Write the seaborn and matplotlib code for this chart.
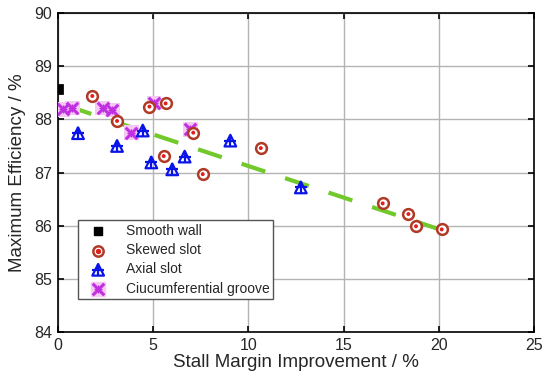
import matplotlib
matplotlib.use("Agg")
import matplotlib.pyplot as plt
from matplotlib.legend_handler import HandlerTuple
import seaborn as sns

# data
smooth_x = [0.0]
smooth_y = [88.58]

skewed_x = [1.8, 3.1, 4.8, 5.65, 7.1, 10.65, 5.55, 7.6, 17.05, 18.4, 18.8, 20.15]
skewed_y = [88.44, 87.97, 88.24, 88.30, 87.75, 87.46, 87.31, 86.97, 86.42, 86.22, 85.99, 85.93]

axial_x = [1.05, 3.1, 4.45, 4.9, 6.0, 6.65, 9.05, 12.75]
axial_y = [87.74, 87.50, 87.79, 87.19, 87.06, 87.30, 87.60, 86.72]

circ_x = [0.25, 0.75, 2.35, 2.85, 3.85, 5.05, 6.95]
circ_y = [88.19, 88.21, 88.21, 88.18, 87.75, 88.31, 87.81]

trend_x = [0.5, 20.3]
trend_y = [88.25, 85.90]

labels = ['Smooth wall', 'Skewed slot', 'Axial slot', 'Ciucumferential groove']

sns.set_style("ticks")
plt.rcParams['font.family'] = ['Liberation Sans', 'DejaVu Sans']

fig = plt.figure(figsize=(5.5, 3.83), dpi=100)
ax = fig.add_axes([0.1055, 0.133, 0.8655, 0.833])

# trend line
sns.lineplot(x=trend_x, y=trend_y, ax=ax, color='#72c92c', lw=3, zorder=2)
ax.lines[-1].set_dashes([6, 5])

# smooth wall
sns.scatterplot(x=smooth_x, y=smooth_y, ax=ax, marker='s', s=45,
                color='black', edgecolor='black', zorder=5)

# skewed slot: ring with a red dot
sns.scatterplot(x=skewed_x, y=skewed_y, ax=ax, marker='o', s=60,
                facecolor='white', edgecolor='#b03a26', linewidth=1.8, zorder=4)
sns.scatterplot(x=skewed_x, y=skewed_y, ax=ax, marker='o', s=8,
                color='#e0201c', edgecolor='none', zorder=4)

# axial slot: triangle with a cross
sns.scatterplot(x=axial_x, y=axial_y, ax=ax, marker='^', s=70,
                facecolor='none', edgecolor='#0a14e6', linewidth=1.6, zorder=4)
sns.scatterplot(x=axial_x, y=axial_y, ax=ax, marker='+', s=70,
                color='#0a14e6', linewidth=1.6, zorder=4)

# circumferential groove: pink square, magenta cross hatch
sns.scatterplot(x=circ_x, y=circ_y, ax=ax, marker='s', s=110,
                color='#f6c8f4', edgecolor='none', zorder=3)
sns.scatterplot(x=circ_x, y=circ_y, ax=ax, marker='x', s=70,
                color='#c030e0', linewidth=2.2, zorder=3)
sns.scatterplot(x=circ_x, y=circ_y, ax=ax, marker='+', s=40,
                color='#c030e0', linewidth=1.0, zorder=3)

ax.set_xlim(0, 25)
ax.set_ylim(84, 90)
ax.set_xticks([0, 5, 10, 15, 20, 25])
ax.set_yticks([84, 85, 86, 87, 88, 89, 90])
ax.grid(True, color='#b4b4b4', lw=1.0)
ax.set_axisbelow(True)
for sp in ax.spines.values():
    sp.set_visible(True)
    sp.set_color('black')
    sp.set_linewidth(1.2)
ax.tick_params(labelsize=11.5, length=4, width=1.2, color='black', pad=4,
               direction='in', top=True, right=True)
ax.set_xlabel('Stall Margin Improvement / %', fontsize=13.5, labelpad=1)
ax.set_ylabel('Maximum Efficiency / %', fontsize=13.5, labelpad=6)

h_smooth = ax.scatter([], [], marker='s', s=40, color='black')
h_sk1 = ax.scatter([], [], marker='o', s=55, facecolor='white', edgecolor='#b03a26', linewidth=1.8)
h_sk2 = ax.scatter([], [], marker='o', s=8, color='#e0201c')
h_ax1 = ax.scatter([], [], marker='^', s=70, facecolor='none', edgecolor='#0a14e6', linewidth=1.6)
h_ax2 = ax.scatter([], [], marker='+', s=70, color='#0a14e6', linewidth=1.6)
h_c1 = ax.scatter([], [], marker='s', s=110, color='#f6c8f4')
h_c2 = ax.scatter([], [], marker='x', s=70, color='#c030e0', linewidth=2.2)
h_c3 = ax.scatter([], [], marker='+', s=40, color='#c030e0', linewidth=1.0)

leg = ax.legend([h_smooth, (h_sk1, h_sk2), (h_ax1, h_ax2), (h_c1, h_c2, h_c3)],
                labels,
                handler_map={tuple: HandlerTuple(ndivide=1, pad=0)},
                loc='lower left', bbox_to_anchor=(0.042, 0.103),
                fontsize=10, frameon=True, fancybox=False, edgecolor='#555555',
                framealpha=1, handlelength=2.4, handletextpad=0.8,
                labelspacing=0.38, borderpad=0.25, borderaxespad=0)
leg.get_frame().set_linewidth(1.0)

fig.savefig('out.png', dpi=100)
